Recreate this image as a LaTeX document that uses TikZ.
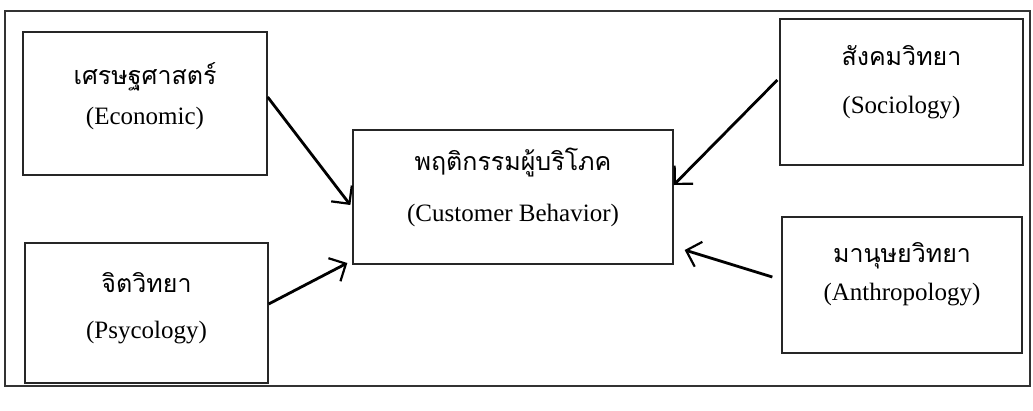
\documentclass[tikz,border=0pt]{standalone}
\usepackage{fontspec}
\setmainfont{Liberation Serif}
\newfontfamily\thaifont[Script=Thai]{Loma}
\usetikzlibrary{arrows.meta}
\tikzset{
  box/.style={draw=black!85, line width=1.3pt, minimum width=#1, inner sep=0pt},
  en/.style={font=\fontsize{25}{30}\selectfont, inner sep=0pt},
  th/.style={font=\thaifont\fontsize{25}{30}\selectfont, inner sep=0pt},
  arr/.style={line width=2.8pt, -{Straight Barb[length=13pt,width=26pt,line width=2.2pt]}},
  frame/.style={draw=black!80, line width=1.5pt}
}
\begin{document}
\begin{tikzpicture}[x=1pt,y=-1pt]
\useasboundingbox (0,0) rectangle (1033,410);
\draw[frame] (5,11) rectangle (1030,386);
% boxes
\node[box=244pt, minimum height=143pt] (econ) at (145,103.5) {};
\node[box=243pt, minimum height=140pt] (psy) at (146.5,313) {};
\node[box=320pt, minimum height=134pt] (cb) at (513,197) {};
\node[box=243pt, minimum height=146pt] (soc) at (901.5,92) {};
\node[box=240pt, minimum height=136pt] (anth) at (902,285) {};
% texts
\node[th] (econth) at (145,77) {เศรษฐศาสตร์};
\node[en] (econen) at (145,118) {(Economic)};
\node[th] (psyth) at (146.5,283) {จิตวิทยา};
\node[en] (psyen) at (146.5,333) {(Psycology)};
\node[th] (cbth) at (513,162) {พฤติกรรมผู้บริโภค};
\node[en] (cben) at (513,215) {(Customer Behavior)};
\node[th] (socth) at (901.5,56) {สังคมวิทยา};
\node[en] (socen) at (901.5,108) {(Sociology)};
\node[th] (anthth) at (902,256) {มานุษยวิทยา};
\node[en] (anthen) at (902,295) {(Anthropology)};
% arrows
\draw[arr] ([yshift=6.5pt]econ.east) -- ([xshift=-2pt,yshift=-8pt]cb.west);
\draw[arr] ([yshift=9pt]psy.east) -- ([xshift=-5pt,yshift=-66pt]cb.west);
\draw[arr] ([xshift=-2pt,yshift=12pt]soc.west) -- ([xshift=0pt,yshift=12pt]cb.east);
\draw[arr] ([xshift=-9pt,yshift=8pt]anth.west) -- ([xshift=11pt,yshift=-53pt]cb.east);
\end{tikzpicture}
\end{document}
